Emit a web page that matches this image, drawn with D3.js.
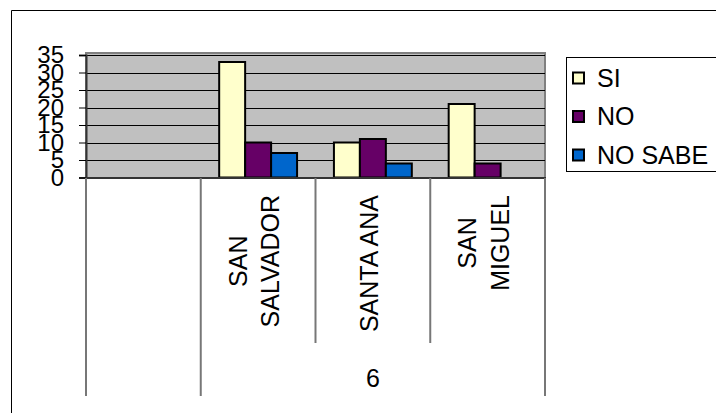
<!DOCTYPE html>
<html>
<head>
<meta charset="utf-8">
<script src="https://cdn.jsdelivr.net/npm/d3@7"></script>
<style>
  body { margin: 0; background: #fff; }
  svg { display: block; font-family: "Liberation Sans", Arial, sans-serif; }
</style>
</head>
<body>
<svg width="716" height="413"></svg>
<script>
// chart data
const categories = ['', 'SAN\nSALVADOR', 'SANTA ANA', 'SAN\nMIGUEL']
const groupLabels = ['', '6']
const groupSpans = [1, 3]
const seriesNames = ['SI', 'NO', 'NO SABE']
const siValues = [null, 33, 10, 21]
const noValues = [null, 10, 11, 4]
const noSabeValues = [null, 7, 4, null]
const yTicks = [0, 5, 10, 15, 20, 25, 30, 35]
const colors = ['#ffffcc', '#660066', '#0066cc']

document.addEventListener('DOMContentLoaded', () => {
    const svg = d3.select('svg')
    const plot = {left: 86, right: 545, top: 53, bottom: 178}
    const seriesValues = [siValues, noValues, noSabeValues]

    // outer chart border (runs off the right and bottom)
    svg.append('path')
        .attr('d', 'M11.5 420 V10.5 H720')
        .attr('fill', 'none')
        .attr('stroke', '#000')

    const x = d3.scaleBand()
        .domain(d3.range(categories.length))
        .range([plot.left, plot.right])
    const xs = d3.scaleBand()
        .domain(seriesNames)
        .range([0, x.bandwidth()])
        .paddingOuter(0.71)
    const y = d3.scaleLinear()
        .domain([0, 35])
        .range([177.5, 55])

    // plot area
    svg.append('rect')
        .attr('x', plot.left).attr('y', plot.top)
        .attr('width', plot.right - plot.left).attr('height', plot.bottom - plot.top)
        .attr('fill', '#c0c0c0')
        .attr('stroke', '#808080')
        .attr('stroke-width', 2)

    svg.append('g').selectAll('line').data(yTicks.filter(d => d > 0))
        .enter().append('line')
            .attr('x1', plot.left).attr('x2', plot.right)
            .attr('y1', d => Math.round(y(d)) + 0.5).attr('y2', d => Math.round(y(d)) + 0.5)
            .attr('stroke', '#000')

    // y axis
    const yAxis = svg.append('g')
        .attr('transform', `translate(${plot.left},0)`)
        .call(d3.axisLeft(y).tickValues(yTicks).tickSize(7).tickPadding(15))
    yAxis.select('.domain').attr('stroke', '#333').attr('stroke-width', 2)
    yAxis.selectAll('.tick text')
        .attr('font-size', 24)
        .attr('font-family', '"Liberation Sans", Arial, sans-serif')
        .attr('fill', '#000')

    // bars
    seriesNames.forEach((s, i) => {
        const vals = seriesValues[i].map((v, j) => ({v, j})).filter(d => d.v != null)
        svg.append('g').selectAll('rect').data(vals)
            .enter().append('rect')
                .attr('x', d => x(d.j) + xs(s))
                .attr('y', d => y(d.v))
                .attr('width', xs.bandwidth())
                .attr('height', d => y(0) - y(d.v))
                .attr('fill', colors[i])
                .attr('stroke', '#000')
                .attr('stroke-width', 2)
    })

    // x axis line
    svg.append('line')
        .attr('x1', plot.left).attr('x2', plot.right + 1)
        .attr('y1', plot.bottom).attr('y2', plot.bottom)
        .attr('stroke', '#333').attr('stroke-width', 2)

    // category dividers: group edges run deeper
    const groupEdges = [0]
    groupSpans.forEach(n => groupEdges.push(groupEdges[groupEdges.length - 1] + n))
    d3.range(categories.length + 1).forEach(k => {
        const xp = k < categories.length ? x(k) : plot.right
        svg.append('line')
            .attr('x1', xp).attr('x2', xp)
            .attr('y1', plot.bottom).attr('y2', groupEdges.includes(k) ? 396 : 343)
            .attr('stroke', '#777').attr('stroke-width', 2)
    })

    // category labels, rotated
    categories.forEach((c, j) => {
        if (!c) return
        const lines = c.split('\n')
        const cx = x(j) + x.bandwidth() / 2 - 4
        const g = svg.append('g')
        const texts = lines.map((l, i) => g.append('text')
            .attr('font-size', 25)
            .attr('text-anchor', 'middle')
            .attr('dy', '0.35em')
            .text(l))
        const maxLen = d3.max(texts, t => t.node().getComputedTextLength())
        const cy = 195 + maxLen / 2
        texts.forEach((t, i) => {
            const off = (i - (lines.length - 1) / 2) * 32.6
            t.attr('transform', `translate(${cx + off},${cy}) rotate(-90)`)
        })
    })

    // group labels
    groupLabels.forEach((g, i) => {
        if (!g) return
        const a = groupEdges[i], b = groupEdges[i + 1]
        const x0 = x(a), x1 = b < categories.length ? x(b) : plot.right
        svg.append('text')
            .attr('x', (x0 + x1) / 2)
            .attr('y', 378)
            .attr('dy', '0.35em')
            .attr('text-anchor', 'middle')
            .attr('font-size', 25)
            .text(g)
    })

    // legend
    const lg = svg.append('g')
    lg.append('rect')
        .attr('x', 566.5).attr('y', 57.5)
        .attr('width', 160).attr('height', 114)
        .attr('fill', '#fff').attr('stroke', '#000')
    seriesNames.forEach((s, i) => {
        const cy = 78 + i * 38.5
        lg.append('rect')
            .attr('x', 573).attr('y', cy - 5.5)
            .attr('width', 11).attr('height', 11)
            .attr('fill', colors[i]).attr('stroke', '#000').attr('stroke-width', 2)
        lg.append('text')
            .attr('x', 597).attr('y', cy)
            .attr('dy', '0.35em')
            .attr('font-size', 25)
            .text(s)
    })
})
</script>
</body>
</html>
